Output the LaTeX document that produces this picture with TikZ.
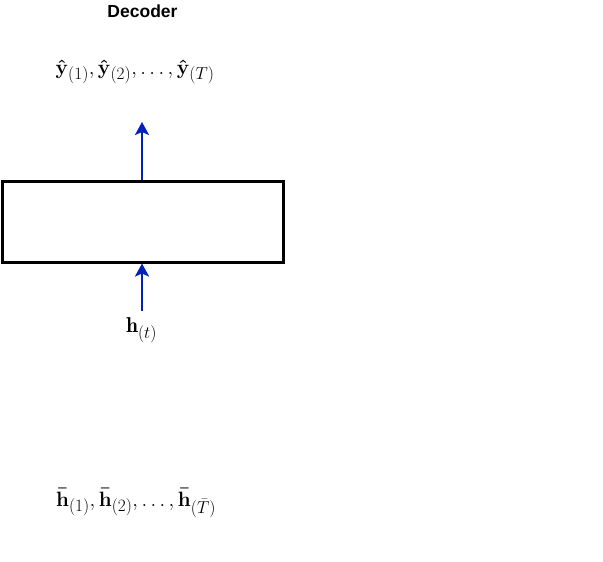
\documentclass[tikz,border=0pt]{standalone}
\usepackage{amsmath}
\usepackage{fontspec}
\usetikzlibrary{arrows.meta}
\DeclareMathSizes{21.5}{21.5}{16}{12}
\newfontfamily\labelfont{Liberation Sans}
\definecolor{arrowblue}{HTML}{0022BB}
\newcommand{\yh}{\boldsymbol{\hat{\mathbf{y}}}}
\newcommand{\hb}{\boldsymbol{\bar{\mathbf{h}}}}
\begin{document}
\begin{tikzpicture}[x=1pt,y=-1pt,
  arr/.style={draw=arrowblue,line width=2.5pt,-{Stealth[length=13pt,width=14pt,inset=3pt]}},
  mathlbl/.style={inner sep=0pt,font=\fontsize{21.5}{26}\selectfont}]
\useasboundingbox (0,0) rectangle (603,562);
\node[font=\labelfont\bfseries\fontsize{17.5}{21}\selectfont] (title) at (142.5,11) {Decoder};
\node[draw=black,line width=3pt,minimum width=281pt,minimum height=81pt,inner sep=0pt] (box) at (142.5,221.5) {};
\node[mathlbl] (out) at (135,72) {$\yh_{(1)},\yh_{(2)},\dots,\yh_{(T)}$};
\node[mathlbl] (h) at (141.5,330) {$\mathbf{h}_{(t)}$};
\node[mathlbl] (hbar) at (136,503) {$\hb_{(1)},\hb_{(2)},\dots,\hb_{(\bar{T})}$};
\coordinate (outtip) at (142,122);
\coordinate (hstart) at (142,311);
\draw[arr] (box.north -| outtip) -- (outtip);
\draw[arr] (hstart) -- (box.south -| hstart);
\end{tikzpicture}
\end{document}
